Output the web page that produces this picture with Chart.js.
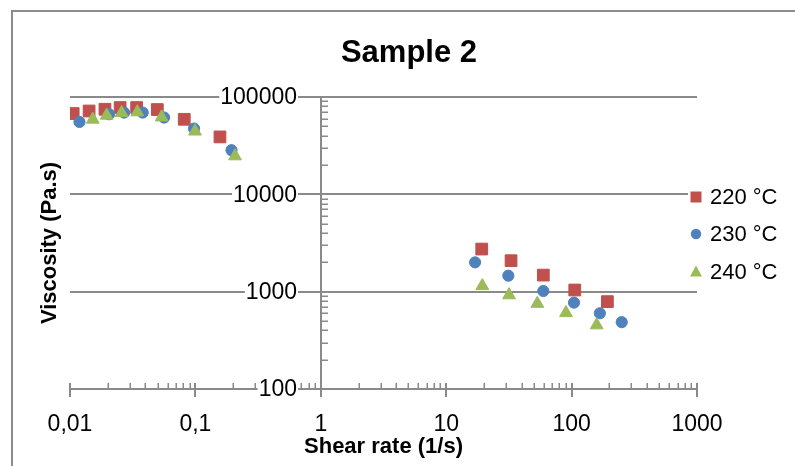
<!DOCTYPE html>
<html><head><meta charset="utf-8">
<script src="https://cdn.jsdelivr.net/npm/chart.js@4"></script>
<style>html,body{margin:0;padding:0;background:#fff}#wrap{width:795px;height:466px;position:relative}</style>
</head><body><div id="wrap"><canvas id="c" width="795" height="466"></canvas></div>
<script>
const chartTitle = 'Sample 2';
const xTitle = 'Shear rate (1/s)';
const yTitle = 'Viscosity (Pa.s)';
const seriesNames = ['220 °C', '230 °C', '240 °C'];
const seriesColors = ['#C0504D', '#4F81BD', '#9BBB59'];
const xTickValues = [0.01, 0.1, 1, 10, 100, 1000];
const xTickLabels = ['0,01', '0,1', '1', '10', '100', '1000'];
const yTickValues = [100, 1000, 10000, 100000];
const yTickLabels = ['100', '1000', '10000', '100000'];

const rate220 = [0.0106, 0.0142, 0.019, 0.0251, 0.034, 0.0497, 0.0815, 0.157, 19.2, 32.9, 59.5, 106, 193];
const visc220 = [67600, 71800, 74800, 77900, 77900, 74300, 59000, 38900, 2740, 2080, 1480, 1040, 790];
const rate230 = [0.0119, 0.0205, 0.027, 0.038, 0.0563, 0.0975, 0.194, 17.0, 31.3, 59.5, 104.5, 168, 251];
const visc230 = [55400, 66500, 69200, 69200, 61500, 47400, 28400, 2000, 1460, 1016, 771, 600, 486];
const rate240 = [0.0152, 0.0196, 0.0258, 0.0344, 0.0538, 0.0993, 0.207, 19.4, 31.7, 53.3, 90.2, 158.5];
const visc240 = [58800, 64600, 68700, 69900, 62000, 44400, 24700, 1146, 922, 754, 605, 453];

const pts = (xs, ys) => xs.map((v, i) => ({x: v, y: ys[i]}));
const FONT = "'Liberation Sans', Arial, sans-serif";

function marker(ctx, style, cx, cy, color) {
  ctx.fillStyle = color;
  ctx.beginPath();
  if (style === 'rect') { ctx.rect(cx - 5.5, cy - 5.5, 11, 11); }
  else if (style === 'circle') { ctx.arc(cx, cy, 5.2, 0, Math.PI * 2); }
  else { ctx.moveTo(cx, cy - 6); ctx.lineTo(cx + 6, cy + 5); ctx.lineTo(cx - 6, cy + 5); ctx.closePath(); }
  ctx.fill();
}

const decor = {
  id: 'decor',
  beforeDatasetsDraw(chart) {
    const {ctx, scales: {x, y}} = chart;
    ctx.save();
    // outer frame
    ctx.strokeStyle = '#8c8c8c'; ctx.lineWidth = 2;
    ctx.beginPath(); ctx.moveTo(12, 466); ctx.lineTo(12, 11); ctx.lineTo(795, 11); ctx.stroke();
    // title
    ctx.fillStyle = '#000'; ctx.font = `bold 31px ${FONT}`;
    ctx.textAlign = 'center'; ctx.textBaseline = 'middle';
    ctx.fillText(chartTitle, 409, 53);
    // horizontal gridlines
    const L = x.getPixelForValue(xTickValues[0]);
    const R = x.getPixelForValue(xTickValues[xTickValues.length - 1]);
    ctx.strokeStyle = '#8a8a8a'; ctx.lineWidth = 2;
    yTickValues.forEach(v => {
      const py = Math.round(y.getPixelForValue(v));
      ctx.beginPath(); ctx.moveTo(L, py); ctx.lineTo(R, py); ctx.stroke();
    });
    const ax = Math.round(x.getPixelForValue(1));
    const top = Math.round(y.getPixelForValue(yTickValues[yTickValues.length - 1]));
    const bot = Math.round(y.getPixelForValue(yTickValues[0]));
    // vertical axis at x = 1
    ctx.beginPath(); ctx.moveTo(ax, top); ctx.lineTo(ax, bot + 8); ctx.stroke();
    // x major ticks
    xTickValues.forEach(v => {
      const px = Math.round(x.getPixelForValue(v));
      ctx.beginPath(); ctx.moveTo(px, bot - 6); ctx.lineTo(px, bot + 8); ctx.stroke();
    });
    // minor ticks
    ctx.lineWidth = 1.5;
    for (let i = 0; i < xTickValues.length - 1; i++) {
      for (let k = 2; k <= 9; k++) {
        const px = Math.round(x.getPixelForValue(xTickValues[i] * k)) + 0.25;
        ctx.beginPath(); ctx.moveTo(px, bot - 6); ctx.lineTo(px, bot); ctx.stroke();
      }
    }
    for (let i = 0; i < yTickValues.length - 1; i++) {
      for (let k = 2; k <= 9; k++) {
        const py = Math.round(y.getPixelForValue(yTickValues[i] * k)) + 0.25;
        ctx.beginPath(); ctx.moveTo(ax, py); ctx.lineTo(ax + 7, py); ctx.stroke();
      }
    }
    // y tick labels (with white background)
    ctx.font = `23px ${FONT}`; ctx.textAlign = 'right'; ctx.textBaseline = 'middle';
    yTickValues.forEach((v, i) => {
      const py = y.getPixelForValue(v);
      const w = ctx.measureText(yTickLabels[i]).width;
      ctx.fillStyle = '#fff';
      ctx.fillRect(ax - 24 - w - 1, py - 9, w + 2, 18);
      ctx.fillStyle = '#000';
      ctx.fillText(yTickLabels[i], ax - 24, py + 1);
    });
    // x tick labels
    ctx.textAlign = 'center';
    xTickValues.forEach((v, i) => {
      ctx.fillText(xTickLabels[i], x.getPixelForValue(v), 425);
    });
    // axis titles
    ctx.font = `bold 22px ${FONT}`;
    ctx.fillText(xTitle, (L + R) / 2, 447);
    ctx.save();
    ctx.translate(50, (top + bot) / 2);
    ctx.rotate(-Math.PI / 2);
    ctx.fillText(yTitle, 0, 0);
    ctx.restore();
    // legend
    ctx.fillStyle = '#fff';
    ctx.fillRect(688, 178, 107, 110);
    const styles = ['rect', 'circle', 'triangle'];
    const ly = [197, 234, 271.5];
    ctx.font = `22px ${FONT}`; ctx.textAlign = 'left';
    seriesNames.forEach((n, i) => {
      marker(ctx, styles[i], 696, ly[i], seriesColors[i]);
      ctx.fillStyle = '#000';
      ctx.fillText(n, 710, ly[i] + 1);
    });
    ctx.restore();
  }
};

new Chart(document.getElementById('c'), {
  type: 'scatter',
  data: {
    datasets: [
      {label: seriesNames[0], data: pts(rate220, visc220), pointStyle: 'rect', pointRadius: 8.3,
       backgroundColor: seriesColors[0], borderColor: seriesColors[0], borderWidth: 1, order: 3},
      {label: seriesNames[1], data: pts(rate230, visc230), pointStyle: 'circle', pointRadius: 5.6,
       backgroundColor: seriesColors[1], borderColor: seriesColors[1], borderWidth: 1, order: 2},
      {label: seriesNames[2], data: pts(rate240, visc240), pointStyle: 'triangle', pointRadius: 7.4,
       backgroundColor: seriesColors[2], borderColor: seriesColors[2], borderWidth: 1, order: 1}
    ]
  },
  options: {
    responsive: false,
    animation: false,
    events: [],
    layout: {padding: {left: 70, right: 98, top: 97, bottom: 77}},
    plugins: {legend: {display: false}, title: {display: false}, tooltip: {enabled: false}},
    scales: {
      x: {type: 'logarithmic', min: 0.01, max: 1000, display: false},
      y: {type: 'logarithmic', min: 100, max: 100000, display: false}
    }
  },
  plugins: [decor]
});
</script>
</body></html>
